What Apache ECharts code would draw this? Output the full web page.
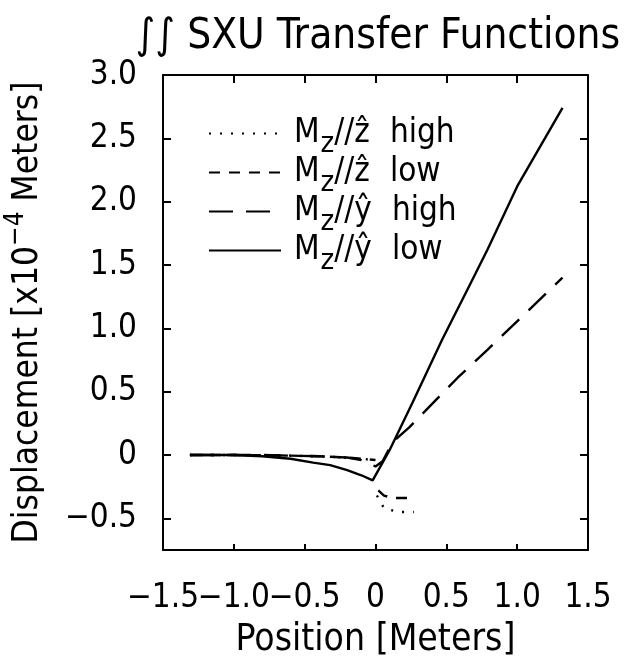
<!DOCTYPE html>
<html>
<head>
<meta charset="utf-8">
<script src="https://cdn.jsdelivr.net/npm/echarts@6/dist/echarts.min.js"></script>
<style>
  html, body { margin: 0; padding: 0; background: #fff; }
  #chart { width: 632px; height: 664px; }
</style>
</head>
<body>
<div id="chart"></div>
<script>
// Axis ranges and tick labels
const xTicks = [-1.5, -1.0, -0.5, 0, 0.5, 1.0, 1.5];
const yTicks = [-0.5, 0, 0.5, 1.0, 1.5, 2.0, 2.5, 3.0];

// M_z // z-hat, high frequency (dotted)
const zHighX = [-1.31, -1.0, -0.6, -0.3, -0.1, 0.0, 0.005, 0.01, 0.06, 0.16, 0.27];
const zHighY = [0, 0, -0.005, -0.015, -0.03, -0.04, null, -0.32, -0.42, -0.45, -0.45];

// M_z // z-hat, low frequency (short dash)
const zLowX = [-1.31, -1.0, -0.6, -0.4, -0.2, -0.1, 0.0, 0.01, 0.02, 0.06, 0.12, 0.28];
const zLowY = [0, 0, -0.005, -0.01, -0.02, -0.03, -0.04, null, -0.28, -0.32, -0.34, -0.34];

// M_z // y-hat, high frequency (long dash)
const yHighX = [-1.31, -0.8, -0.4, -0.2, -0.1, 0.0, 0.05, 0.12, 0.24, 0.58, 0.79, 1.32];
const yHighY = [0, 0, -0.01, -0.02, -0.04, -0.09, -0.05, 0.1, 0.22, 0.61, 0.83, 1.4];

// M_z // y-hat, low frequency (solid)
const yLowX = [-1.31, -1.0, -0.8, -0.6, -0.44, -0.32, -0.2, -0.1, -0.02, 0.05, 0.1, 0.26, 0.47, 0.66, 0.79, 1.0, 1.32];
const yLowY = [0, 0, -0.01, -0.03, -0.06, -0.08, -0.12, -0.16, -0.2, -0.06, 0.04, 0.41, 0.91, 1.33, 1.62, 2.12, 2.74];

const seriesNames = ['zhigh', 'zlow', 'yhigh', 'ylow'];
const legendText = {
  zhigh: '{m|M}{s|z}{m|//ẑ}{w|high}',
  zlow: '{m|M}{s|z}{m|//ẑ}{w|low}',
  yhigh: '{m|M}{s|z}{m|//ŷ}{w|high}',
  ylow: '{m|M}{s|z}{m|//ŷ}{w|low}'
};

const FONT = '"DejaVu Sans Condensed", "DejaVu Sans", sans-serif';

function pairs(xs, ys) {
  return xs.map((x, i) => [x, ys[i] === null ? '-' : ys[i]]);
}

function fmt(v) {
  if (Math.abs(v) < 1e-9) return '0';
  const s = Math.abs(v).toFixed(1);
  return (v < 0 ? '\u2212' : '') + s;
}

// The x tick labels sit close together, so alternate ones go on two
// overlaid bottom axes to keep every label drawn.
const xLabelsA = xTicks.filter((_, i) => i % 2 === 0);
const xLabelsB = xTicks.filter((_, i) => i % 2 === 1);

const chart = echarts.init(document.getElementById('chart'), null, { renderer: 'canvas' });

const axisLine = { show: true, onZero: false, lineStyle: { color: '#000', width: 2 } };
const xLabelStyle = { show: true, margin: 32, fontFamily: FONT, fontSize: 33, color: '#000', formatter: fmt };

const lineSeries = (name, data, type) => ({
  name: name,
  type: 'line',
  data: data,
  showSymbol: false,
  symbol: 'none',
  smooth: false,
  connectNulls: false,
  xAxisIndex: 0,
  yAxisIndex: 0,
  lineStyle: { color: '#000', width: 2.4, type: type },
  itemStyle: { color: '#000' },
  animation: false
});

chart.setOption({
  backgroundColor: '#fff',
  animation: false,
  textStyle: { fontFamily: FONT, color: '#000' },
  title: {
    text: '∫∫ SXU Transfer Functions',
    left: 373,
    textAlign: 'center',
    top: 11,
    textStyle: { fontFamily: FONT, fontSize: 42, fontWeight: 'normal', color: '#000' }
  },
  grid: { left: 163, right: 44, top: 75, bottom: 114, containLabel: false, outerBoundsMode: 'none' },
  legend: {
    orient: 'vertical',
    left: 203,
    top: 103,
    itemWidth: 72,
    itemHeight: 14,
    itemGap: -12,
    data: seriesNames,
    formatter: (n) => legendText[n],
    itemStyle: { opacity: 0 },
    textStyle: {
      fontFamily: FONT,
      color: '#000',
      padding: [0, 0, 0, 8],
      rich: {
        m: { fontSize: 33, fontFamily: FONT, color: '#000', lineHeight: 34 },
        s: { fontSize: 29, fontFamily: FONT, color: '#000', lineHeight: 24, padding: [22, 0, 0, 1] },
        w: { fontSize: 33, fontFamily: FONT, color: '#000', lineHeight: 34, padding: [0, 0, 0, 20] }
      }
    },
    lineStyle: { width: 2 }
  },
  xAxis: [
    {
      type: 'value', min: -1.5, max: 1.5, interval: 0.5,
      position: 'bottom',
      axisLine: axisLine,
      splitLine: { show: false },
      axisTick: { show: true, inside: true, length: 6, lineStyle: { color: '#000', width: 2 } },
      axisLabel: Object.assign({ customValues: xLabelsA }, xLabelStyle),
      name: 'Position [Meters]',
      nameLocation: 'middle',
      nameGap: 72,
      nameTextStyle: { fontFamily: FONT, fontSize: 37, color: '#000' }
    },
    {
      type: 'value', min: -1.5, max: 1.5, interval: 0.5,
      position: 'top',
      axisLine: axisLine,
      splitLine: { show: false },
      axisTick: { show: true, inside: true, length: 8, lineStyle: { color: '#000', width: 2 } },
      axisLabel: { show: false }
    },
    {
      type: 'value', min: -1.5, max: 1.5, interval: 0.5,
      position: 'bottom',
      axisLine: { show: false, onZero: false },
      splitLine: { show: false },
      axisTick: { show: false },
      axisLabel: Object.assign({ customValues: xLabelsB }, xLabelStyle)
    }
  ],
  yAxis: [
    {
      type: 'value', min: -0.75, max: 3.0,
      position: 'left',
      axisLine: axisLine,
      splitLine: { show: false },
      axisTick: { show: true, inside: true, length: 8, customValues: yTicks, lineStyle: { color: '#000', width: 2 } },
      axisLabel: {
        show: true, margin: 26, fontFamily: FONT, fontSize: 33, color: '#000',
        customValues: yTicks,
        formatter: fmt
      },
      name: '{t|Displacement [x10}{p|−4}{t| Meters]}',
      nameLocation: 'middle',
      nameGap: 110,
      nameRotate: 90,
      nameTextStyle: {
        rich: {
          t: { fontFamily: FONT, fontSize: 35, color: '#000' },
          p: { fontFamily: FONT, fontSize: 26, color: '#000', padding: [0, 0, 24, 0] }
        }
      }
    },
    {
      type: 'value', min: -0.75, max: 3.0,
      position: 'right',
      axisLine: axisLine,
      splitLine: { show: false },
      axisTick: { show: true, inside: true, length: 8, customValues: yTicks, lineStyle: { color: '#000', width: 2 } },
      axisLabel: { show: false }
    }
  ],
  series: [
    lineSeries('zhigh', pairs(zHighX, zHighY), [2, 9]),
    lineSeries('zlow', pairs(zLowX, zLowY), [11, 9]),
    lineSeries('yhigh', pairs(yHighX, yHighY), [24, 13]),
    lineSeries('ylow', pairs(yLowX, yLowY), 'solid')
  ]
});
</script>
</body>
</html>
